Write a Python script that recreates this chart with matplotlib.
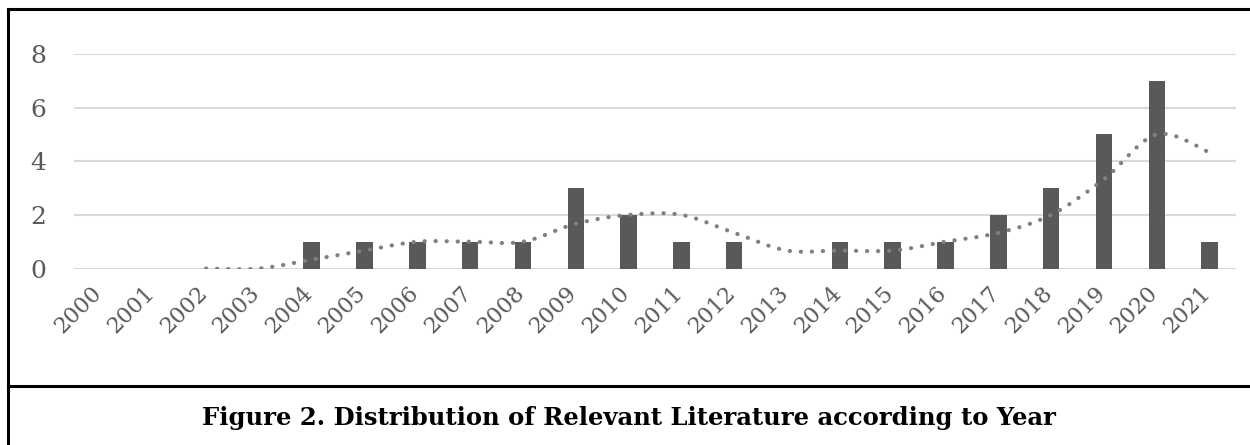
import matplotlib
matplotlib.use("Agg")
import matplotlib.pyplot as plt
from matplotlib.lines import Line2D
from matplotlib.path import Path
from matplotlib.patches import PathPatch

years = [str(y) for y in range(2000, 2022)]
counts = [0, 0, 0, 0, 1, 1, 1, 1, 1, 3, 2, 1, 1, 0, 1, 1, 1, 2, 3, 5, 7, 1]
# 3-year moving average trendline (starts at 2002)
trend_years = years[2:]
trend = [0, 0, 0.33, 0.67, 1, 1, 1, 1.67, 2, 2, 1.33, 0.67, 0.67, 0.67, 1, 1.33, 2, 3.33, 5, 4.33]
yticks = [0, 2, 4, 6, 8]
caption = "Figure 2. Distribution of Relevant Literature according to Year"

plt.rcParams['font.family'] = ['DejaVu Serif']

fig = plt.figure(figsize=(12.5, 4.45), dpi=100)
ax = fig.add_axes([0.0592, 0.3966, 0.9296, 0.4821])

x = list(range(len(years)))
ax.bar(x, counts, width=0.31, color='#595959', zorder=3)

# smoothed line like Excel: cubic bezier segments through the trend points
tx = [years.index(y) for y in trend_years]
pts = list(zip(tx, trend))
verts = [pts[0]]
codes = [Path.MOVETO]
for i in range(len(pts) - 1):
    p0 = pts[i - 1] if i > 0 else pts[i]
    p1, p2 = pts[i], pts[i + 1]
    p3 = pts[i + 2] if i + 2 < len(pts) else pts[i + 1]
    c1 = (p1[0] + (p2[0] - p0[0]) / 6, p1[1] + (p2[1] - p0[1]) / 6)
    c2 = (p2[0] - (p3[0] - p1[0]) / 6, p2[1] - (p3[1] - p1[1]) / 6)
    verts += [c1, c2, p2]
    codes += [Path.CURVE4] * 3
ax.add_patch(PathPatch(Path(verts, codes), fill=False, edgecolor='#808080', linewidth=3,
                       linestyle=(0, (0.05, 2.6)), capstyle='round', zorder=4))

ax.set_xlim(-0.5, len(years) - 0.5)
ax.set_ylim(0, 8)
ax.set_yticks(yticks)
ax.set_yticklabels([str(v) for v in yticks])
ax.set_xticks(x)
ax.set_xticklabels([])
# year labels placed by hand so the rotated text ends just under each bar
for i, yr in enumerate(years):
    ax.annotate(yr, xy=(i, 0), xycoords=('data', 'axes fraction'),
                xytext=(-2, -21), textcoords='offset pixels',
                rotation=45, rotation_mode='anchor', ha='right', va='center',
                fontsize=16, color='#595959')
ax.tick_params(axis='y', length=0, pad=20, labelsize=18, labelcolor='#595959')
ax.tick_params(axis='x', length=0)
ax.grid(axis='y', color='#d9d9d9', linewidth=1.5, zorder=0)
for s in ax.spines.values():
    s.set_visible(False)

# frame around the figure and the caption separator
fig.add_artist(Line2D([8 / 1250, 8 / 1250], [0, 1 - 9 / 445], transform=fig.transFigure,
                      color='black', linewidth=2.2))
fig.add_artist(Line2D([8 / 1250, 1], [1 - 9 / 445, 1 - 9 / 445], transform=fig.transFigure,
                      color='black', linewidth=2.2))
fig.add_artist(Line2D([8 / 1250, 1], [1 - 386 / 445, 1 - 386 / 445], transform=fig.transFigure,
                      color='black', linewidth=2.2))

fig.text(629 / 1250, 1 - 418 / 445, caption, ha='center', va='center',
         fontsize=17.5, fontweight='bold', color='black')

fig.savefig('out.png', dpi=100)
